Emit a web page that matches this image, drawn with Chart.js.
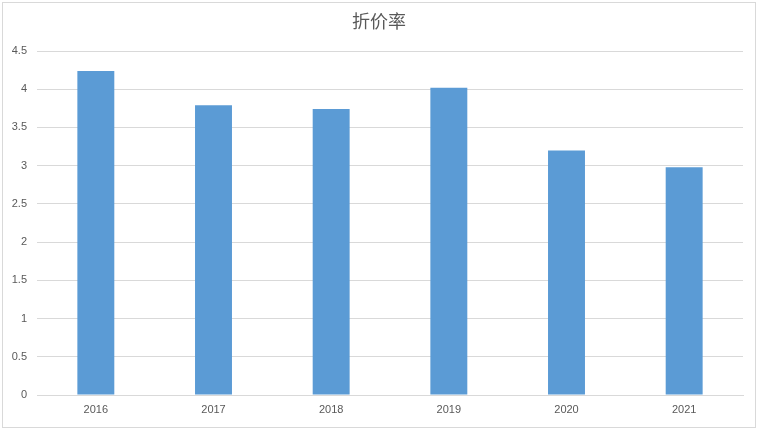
<!DOCTYPE html>
<html>
<head>
<meta charset="utf-8">
<script src="https://cdn.jsdelivr.net/npm/chart.js@4.4.0/dist/chart.umd.min.js"></script>
<style>
html,body{margin:0;padding:0;background:#fff;}
#wrap{position:relative;width:758px;height:430px;}
</style>
</head>
<body>
<div id="wrap"><canvas id="c" width="758" height="430"></canvas></div>
<script>
const categories = ['2016','2017','2018','2019','2020','2021'];
const discountRate = [4.24, 3.79, 3.74, 4.02, 3.2, 2.98];
const yTickValues = [0, 0.5, 1, 1.5, 2, 2.5, 3, 3.5, 4, 4.5];
const titleText = '折价率';

const borderPlugin = {
  id: 'frame',
  beforeDraw(chart) {
    const ctx = chart.ctx;
    ctx.save();
    ctx.fillStyle = '#ffffff';
    ctx.fillRect(0, 0, chart.width, chart.height);
    ctx.strokeStyle = '#d9d9d9';
    ctx.lineWidth = 1;
    ctx.strokeRect(2.5, 2.5, chart.width - 5, chart.height - 5);
    ctx.restore();
  }
};

new Chart(document.getElementById('c'), {
  type: 'bar',
  data: {
    labels: categories,
    datasets: [{
      label: titleText,
      data: discountRate,
      backgroundColor: '#5b9bd5',
      borderWidth: 0,
      categoryPercentage: 1,
      barPercentage: 0.314,
      yAxisID: 'y'
    }]
  },
  options: {
    responsive: false,
    animation: false,
    devicePixelRatio: 1,
    layout: { padding: { left: 0, right: 0, top: 0, bottom: 0 } },
    plugins: {
      legend: { display: false },
      tooltip: { enabled: false },
      title: {
        display: true,
        text: titleText,
        color: '#595959',
        font: { family: '"Noto Sans CJK SC", sans-serif', size: 18, weight: 'normal', lineHeight: 1.2 },
        padding: { top: 10, bottom: 19.4 }
      }
    },
    scales: {
      x: {
        grid: { display: false, drawTicks: false },
        border: { display: true, color: '#d9d9d9' },
        ticks: { color: '#595959', font: { family: '"Liberation Sans", sans-serif', size: 11 }, padding: 8 },
        afterFit(s) { s.height = 35; }
      },
      y: {
        position: 'left',
        min: yTickValues[0], max: yTickValues[yTickValues.length - 1],
        grid: { color: '#d9d9d9', drawTicks: false },
        border: { display: false },
        afterBuildTicks(s) { s.ticks = yTickValues.map(v => ({ value: v })); },
        ticks: {
          color: '#595959',
          font: { family: '"Liberation Sans", sans-serif', size: 11 },
          padding: 10,
          callback: (v) => String(v)
        },
        afterFit(s) { s.width = 37; }
      },
      spacer: {
        type: 'linear',
        position: 'right',
        display: true,
        grid: { display: false, drawTicks: false },
        border: { display: false },
        ticks: { display: false },
        afterFit(s) { s.width = 15; }
      }
    }
  },
  plugins: [borderPlugin]
});
</script>
</body>
</html>
